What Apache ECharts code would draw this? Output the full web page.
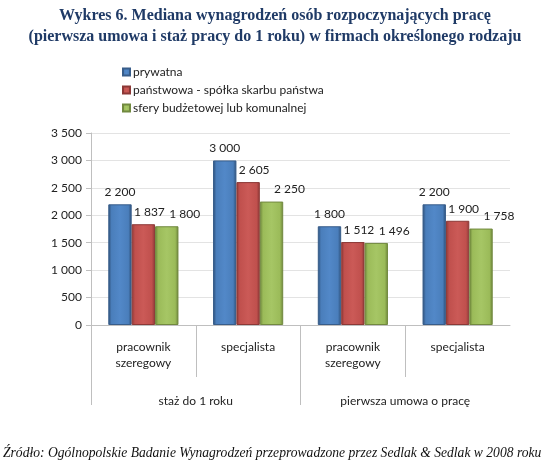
<!DOCTYPE html>
<html>
<head>
<meta charset="utf-8">
<script src="https://cdn.jsdelivr.net/npm/echarts@6/dist/echarts.min.js"></script>
<style>
html,body{margin:0;padding:0;background:#fff;}
#c{width:550px;height:468px;}
</style>
</head>
<body>
<div id="c"></div>
<script>
var categories = ['pracownik\nszeregowy', 'specjalista', 'pracownik\nszeregowy', 'specjalista'];
var groups = ['staż do 1 roku', 'pierwsza umowa o pracę'];
var seriesNames = ['prywatna', 'państwowa - spółka skarbu państwa', 'sfery budżetowej lub komunalnej'];
var prywatna = [2200, 3000, 1800, 2200];
var panstwowa = [1837, 2605, 1512, 1900];
var budzetowa = [1800, 2250, 1496, 1758];
var yTicks = [0, 500, 1000, 1500, 2000, 2500, 3000, 3500];

var W = 550, H = 468;
var gLeft = 91, gRight = 40, gTop = 133, gBottom = 143;
var plotW = W - gLeft - gRight;

function fmt(v) {
  return String(v).replace(/\B(?=(\d{3})+(?!\d))/g, ' ');
}
function grad(dark, base, light) {
  return new echarts.graphic.LinearGradient(0, 0, 1, 0, [
    {offset: 0, color: dark},
    {offset: 0.14, color: base},
    {offset: 0.5, color: light},
    {offset: 0.86, color: base},
    {offset: 1, color: dark}
  ]);
}
var colors = [
  ['#2c4d75', '#4a7ebb', '#5288c8', '#385d8a'],
  ['#8c3836', '#c0504d', '#cb5a57', '#8c3836'],
  ['#6b8239', '#9bbb59', '#a6c665', '#71893f']
];
var labelShift = [[0, 0], [6, 0], [18, 0]];
var datas = [prywatna, panstwowa, budzetowa];
var font = 'Lato';

var series = datas.map(function (d, i) {
  return {
    name: seriesNames[i],
    type: 'bar',
    xAxisIndex: 0,
    yAxisIndex: 0,
    data: d,
    barGap: '0%',
    barCategoryGap: '33%',
    itemStyle: {color: grad(colors[i][0], colors[i][1], colors[i][2]), borderColor: colors[i][3], borderWidth: 1},
    label: {
      show: true, position: 'top', distance: 6, offset: labelShift[i],
      fontFamily: font, fontSize: 12, color: '#222',
      formatter: function (p) { return fmt(p.value); }
    }
  };
});

var chart = echarts.init(document.getElementById('c'), null, {renderer: 'canvas'});
chart.setOption({
  animation: false,
  color: ['#4a7ebb', '#c0504d', '#9bbb59'],
  legend: {
    orient: 'vertical', left: 117, top: 61,
    itemWidth: 7, itemHeight: 7, itemGap: 6,
    icon: 'rect',
    textStyle: {fontFamily: font, fontSize: 12, color: '#222', padding: [0, 0, 0, -2]},
    data: seriesNames
  },
  grid: [
    {left: gLeft, right: gRight, top: gTop, bottom: gBottom},
    {left: gLeft, width: plotW * 3 / 4, top: gTop, bottom: gBottom},
    {left: gLeft, width: plotW / 2, top: gTop, bottom: gBottom}
  ],
  xAxis: [
    {
      type: 'category', gridIndex: 0, data: categories,
      axisLine: {show: true, lineStyle: {color: '#bfbfbf'}},
      axisTick: {show: false},
      axisLabel: {fontFamily: font, fontSize: 12, color: '#222', margin: 14, lineHeight: 16, verticalAlign: 'top'}
    },
    {
      type: 'category', gridIndex: 0, data: groups, position: 'bottom',
      axisLine: {show: false}, axisTick: {show: false},
      axisLabel: {fontFamily: font, fontSize: 12, color: '#222', margin: 70}
    },
    {
      type: 'category', gridIndex: 1, data: ['a', 'b', 'c'],
      axisLine: {show: false},
      axisTick: {show: true, length: 52, lineStyle: {color: '#bfbfbf'}},
      axisLabel: {show: false}
    },
    {
      type: 'category', gridIndex: 2, data: ['a'],
      axisLine: {show: false},
      axisTick: {show: true, length: 80, lineStyle: {color: '#bfbfbf'}},
      axisLabel: {show: false}
    }
  ],
  yAxis: [
    {
      type: 'value', gridIndex: 0, min: yTicks[0], max: yTicks[yTicks.length - 1], interval: 500,
      axisLine: {show: true, lineStyle: {color: '#bfbfbf'}},
      axisTick: {show: true, length: 5, lineStyle: {color: '#bfbfbf'}},
      splitLine: {lineStyle: {color: '#e3e3e3'}},
      axisLabel: {fontFamily: font, fontSize: 12, color: '#222', margin: 9, formatter: function (v) { return fmt(v); }}
    },
    {type: 'value', gridIndex: 1, show: false},
    {type: 'value', gridIndex: 2, show: false}
  ],
  series: series,
  graphic: [
    {
      type: 'text', x: 275, y: 5,
      style: {
        text: 'Wykres 6. Mediana wynagrodzeń osób rozpoczynających pracę\n(pierwsza umowa i staż pracy do 1 roku) w firmach określonego rodzaju',
        align: 'center', verticalAlign: 'top', lineHeight: 21,
        fontFamily: 'Liberation Serif', fontWeight: 'bold', fontSize: 16, fill: '#1f3a66'
      }
    },
    {
      type: 'text', left: 3, top: 446,
      style: {
        text: 'Źródło: Ogólnopolskie Badanie Wynagrodzeń przeprowadzone przez Sedlak & Sedlak w 2008 roku',
        fontFamily: 'Liberation Serif', fontStyle: 'italic', fontSize: 13.6, fill: '#111'
      }
    }
  ]
});
</script>
</body>
</html>
